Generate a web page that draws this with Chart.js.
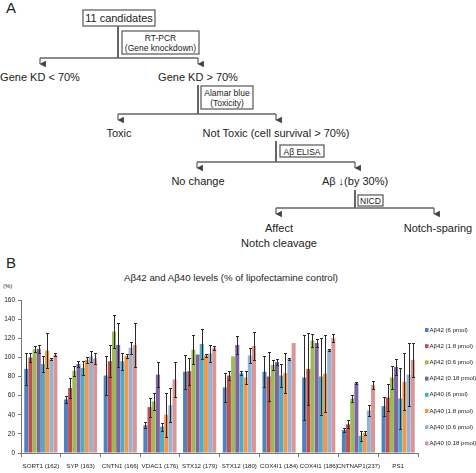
<!DOCTYPE html>
<html>
<head>
<meta charset="utf-8">
<script src="https://cdn.jsdelivr.net/npm/chart.js@4.4.0/dist/chart.umd.min.js"></script>
<style>
  html, body { margin: 0; padding: 0; background: #fff; }
  body { width: 476px; height: 473px; position: relative; overflow: hidden; font-family: "Liberation Sans", Arial, sans-serif; }
  #flow { position: absolute; left: 0; top: 0; }
  #chartBox { position: absolute; left: 0; top: 270px; width: 476px; height: 203px; }
  .lbl { position: absolute; color: #222; white-space: nowrap; }
</style>
</head>
<body>
<!-- Panneau A : organigramme -->
<svg id="flow" width="476" height="270" viewBox="0 0 476 270" font-family="Liberation Sans, Arial, sans-serif" fill="#222">
  <defs>
    <marker id="arr" viewBox="0 0 6 6" refX="3" refY="5.5" markerWidth="5" markerHeight="5" orient="auto-start-reverse">
      <path d="M0,0 L6,0 L3,6 z" fill="#444"/>
    </marker>
  </defs>
  <text x="6" y="13" font-size="15">A</text>

  <g stroke="#555" stroke-width="1.2" fill="none">
    <rect x="83" y="10" width="72" height="16"/>
    <rect x="122" y="31" width="77" height="23"/>
    <rect x="201" y="86" width="52" height="23"/>
    <rect x="280" y="145" width="44" height="12"/>
    <rect x="358" y="195" width="25" height="11"/>
  </g>

  <g stroke="#666" stroke-width="1.3" fill="none">
    <line x1="118" y1="26" x2="118" y2="58" stroke-width="2"/>
    <line x1="40" y1="58" x2="198" y2="58"/>
    <line x1="40" y1="58" x2="40" y2="64" marker-end="url(#arr)"/>
    <line x1="198" y1="58" x2="198" y2="64" marker-end="url(#arr)"/>

    <line x1="198" y1="85" x2="198" y2="114" stroke-width="2"/>
    <line x1="118" y1="114" x2="276" y2="114"/>
    <line x1="118" y1="114" x2="118" y2="120" marker-end="url(#arr)"/>
    <line x1="276" y1="114" x2="276" y2="120" marker-end="url(#arr)"/>

    <line x1="276" y1="141" x2="276" y2="162" stroke-width="2"/>
    <line x1="197" y1="162" x2="355" y2="162"/>
    <line x1="197" y1="162" x2="197" y2="168" marker-end="url(#arr)"/>
    <line x1="355" y1="162" x2="355" y2="168" marker-end="url(#arr)"/>

    <line x1="355" y1="190" x2="355" y2="208" stroke-width="2"/>
    <line x1="276" y1="208" x2="434" y2="208"/>
    <line x1="276" y1="208" x2="276" y2="214" marker-end="url(#arr)"/>
    <line x1="434" y1="208" x2="434" y2="214" marker-end="url(#arr)"/>
  </g>

  <g font-size="11" text-anchor="middle">
    <text x="119" y="22">11 candidates</text>
    <text x="40" y="81">Gene KD &lt; 70%</text>
    <text x="198" y="81">Gene KD &gt; 70%</text>
    <text x="119" y="137">Toxic</text>
    <text x="276" y="137">Not Toxic (cell survival &gt; 70%)</text>
    <text x="198" y="185">No change</text>
    <text x="355" y="185">Aβ ↓(by 30%)</text>
    <text x="279" y="232">Affect</text>
    <text x="279" y="247">Notch cleavage</text>
    <text x="438" y="232">Notch-sparing</text>
  </g>
  <g font-size="8.5" text-anchor="middle">
    <text x="160.5" y="41">RT-PCR</text>
    <text x="160.5" y="51">(Gene knockdown)</text>
    <text x="227" y="96">Alamar blue</text>
    <text x="227" y="106">(Toxicity)</text>
    <text x="302" y="154.5">Aβ ELISA</text>
    <text x="370.5" y="204">NICD</text>
  </g>

  <text x="6" y="268" font-size="15">B</text>
</svg>

<div class="lbl" style="left:0;width:462px;top:272px;text-align:center;font-size:9.7px;">Aβ42 and Aβ40 levels (% of lipofectamine control)</div>
<div class="lbl" style="left:3px;top:283px;font-size:6px;">(%)</div>

<div id="chartBox"><canvas id="barChart" width="476" height="203"></canvas></div>

<script>
// Panneau B : niveaux Aβ42 / Aβ40 (% du contrôle lipofectamine)

const categories = ['SORT1 (162)', 'SYP (163)', 'CNTN1 (166)', 'VDAC1 (176)', 'STX12 (179)',
                    'STX12 (180)', 'COX4I1 (184)', 'COX4I1 (186)', 'CNTNAP1(237)', 'PS1'];

const seriesNames = ['Aβ42 (6 pmol)', 'Aβ42 (1.8 pmol)', 'Aβ42 (0.6 pmol)', 'Aβ42 (0.18 pmol)',
                     'Aβ40 (6 pmol)', 'Aβ40 (1.8 pmol)', 'Aβ40 (0.6 pmol)', 'Aβ40 (0.18 pmol)'];

const seriesColors = ['#4F81BD', '#C0504D', '#9BBB59', '#8064A2', '#4BACC6', '#F79646', '#95B3D7', '#D99694'];

// valeurs moyennes
const ab42_6   = [88, 56, 81, 29, 85, 68.6, 85, 79, 24, 49];
const ab42_18  = [100, 68, 96, 48, 85.6, 81, 80, 88, 30, 58];
const ab42_06  = [108.5, 86, 127, 54, 108, 101, 92, 117.6, 57, 79];
const ab42_018 = [109, 93, 113, 82, 103, 113, 95, 115, 73, 90];
const ab40_6   = [93, 89, 96, 27.5, 114, 83.5, 81, 80, 18, 57];
const ab40_18  = [107, 97.5, 101.6, 40, 102, 79, 83.5, 83, 21, 74.5];
const ab40_06  = [98, 101, 110, 50, 104, 102, 98.5, 108, 44.5, 82];
const ab40_018 = [102.6, 99, 113, 77, 110, 112, 115, 120, 71, 97.4];

// barres d'erreur (+/-)
const err42_6   = [17, 4, 20, 3, 18, 15, 16, 44, 2, 10];
const err42_18  = [5, 10, 17, 10, 14, 5, 26, 38, 4, 14];
const err42_06  = [3, 5, 17, 9, 15, 0, 5, 7, 4, 12];
const err42_018 = [4, 3, 23, 13, 0, 9, 3, 4, 1, 8];
const err40_6   = [8, 7, 9, 4, 16, 2, 12, 40, 5.5, 32];
const err40_18  = [18, 3, 2, 23, 2, 7, 21, 40, 2, 30];
const err40_06  = [1, 6, 6, 18, 9, 8, 1, 1, 6, 33];
const err40_018 = [1.5, 6, 23, 18, 2, 15, 0, 4, 4, 18];

const yTicks = [0, 20, 40, 60, 80, 100, 120, 140, 160];

const allValues = [ab42_6, ab42_18, ab42_06, ab42_018, ab40_6, ab40_18, ab40_06, ab40_018];
const allErrors = [err42_6, err42_18, err42_06, err42_018, err40_6, err40_18, err40_06, err40_018];

const smallFont = "'Liberation Sans', Arial, sans-serif";

// Plugin : barres d'erreur
const errorBarsPlugin = {
    id: 'errorBars',
    afterDatasetsDraw(chart) {
        const ctx = chart.ctx;
        const yScale = chart.scales.y;
        ctx.save();
        ctx.strokeStyle = '#2a2a2a';
        ctx.lineWidth = 1;
        chart.data.datasets.forEach((ds, i) => {
            const meta = chart.getDatasetMeta(i);
            meta.data.forEach((bar, j) => {
                const e = ds.errors[j];
                if (!e) return;
                const v = ds.data[j];
                const top = Math.round(yScale.getPixelForValue(v + e)) + 0.5;
                const bot = Math.round(yScale.getPixelForValue(v - e)) + 0.5;
                const x = Math.round(bar.x) + 0.5;
                ctx.beginPath();
                ctx.moveTo(x, top);
                ctx.lineTo(x, bot);
                ctx.moveTo(x - 1.5, top);
                ctx.lineTo(x + 1.5, top);
                ctx.moveTo(x - 1.5, bot);
                ctx.lineTo(x + 1.5, bot);
                ctx.stroke();
            });
        });
        ctx.restore();
    }
};

// Plugin : légende à droite
const sideLegendPlugin = {
    id: 'sideLegend',
    afterDraw(chart) {
        const ctx = chart.ctx;
        const x0 = chart.chartArea.right + 7;
        ctx.save();
        ctx.font = '6.1px ' + smallFont;
        ctx.textBaseline = 'middle';
        chart.data.datasets.forEach((ds, i) => {
            const yc = 60 + i * 16.2;
            ctx.fillStyle = ds.backgroundColor;
            ctx.fillRect(x0, yc - 2, 3.5, 4);
            ctx.fillStyle = '#222';
            ctx.fillText(ds.label, x0 + 4.5, yc);
        });
        ctx.restore();
    }
};

function createBarChart() {
    const canvas = document.getElementById('barChart');
    if (!canvas) return null;
    const ctx = canvas.getContext('2d');

    const datasets = seriesNames.map((name, i) => ({
        label: name,
        data: allValues[i],
        errors: allErrors[i],
        backgroundColor: seriesColors[i],
        borderWidth: 0,
        categoryPercentage: 0.84,
        barPercentage: 0.96
    }));

    return new Chart(ctx, {
        type: 'bar',
        data: { labels: categories, datasets: datasets },
        options: {
            responsive: false,
            animation: false,
            devicePixelRatio: 1,
            layout: { padding: { top: 30, right: 58, bottom: 0, left: 0 } },
            scales: {
                x: {
                    grid: { display: true, drawOnChartArea: false, drawTicks: true, tickLength: 4, color: '#777', offset: true },
                    border: { color: '#777' },
                    ticks: {
                        autoSkip: false, maxRotation: 0, minRotation: 0, padding: 6,
                        color: '#222', font: { size: 6.2, family: smallFont }
                    },
                    afterFit(scale) { scale.height = 20; }
                },
                y: {
                    min: 0, max: 160,
                    afterBuildTicks(scale) { scale.ticks = yTicks.map(v => ({ value: v })); },
                    grid: { display: true, drawOnChartArea: false, drawTicks: true, tickLength: 3, color: '#777' },
                    border: { color: '#777' },
                    ticks: {
                        padding: 3, color: '#222', font: { size: 6.5, family: smallFont }
                    },
                    afterFit(scale) { scale.width = 21; }
                }
            },
            plugins: {
                legend: { display: false },
                tooltip: { enabled: false }
            }
        },
        plugins: [errorBarsPlugin, sideLegendPlugin]
    });
}

window.barChart = createBarChart();
</script>
</body>
</html>
